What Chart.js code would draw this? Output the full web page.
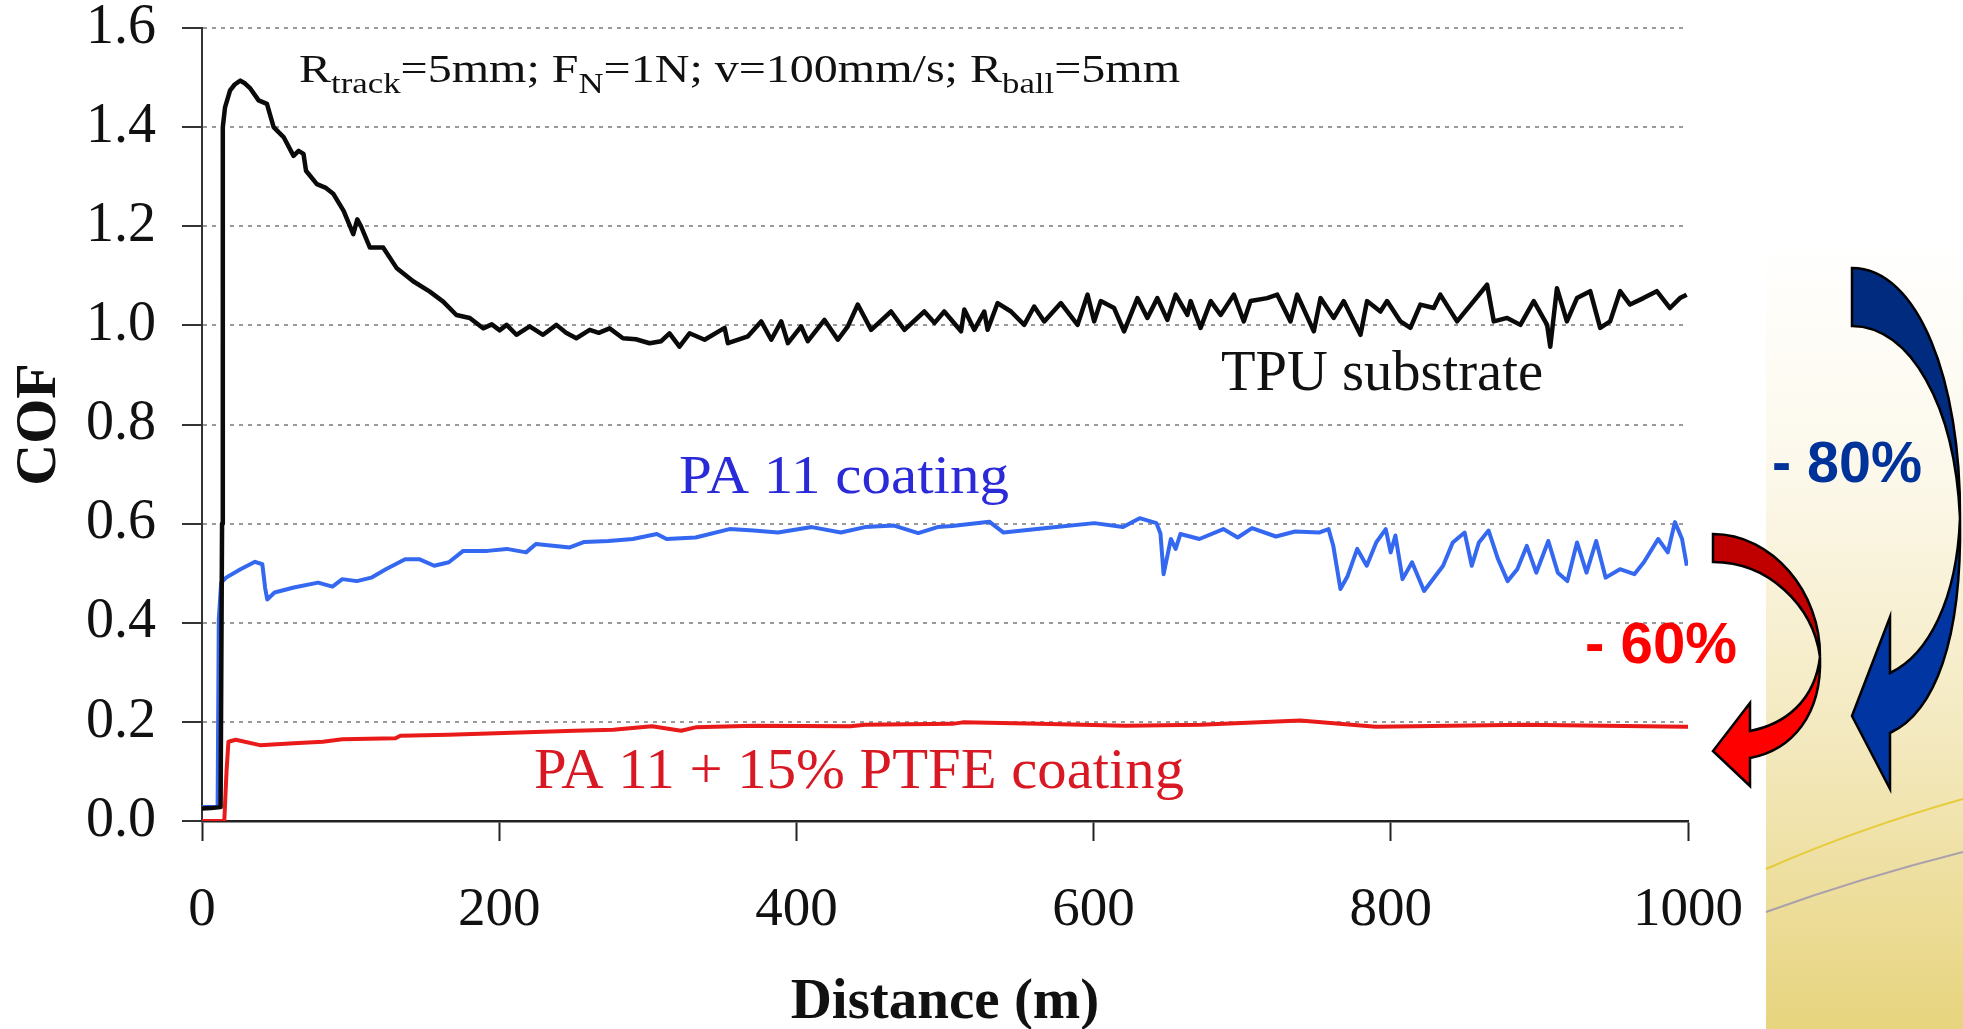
<!DOCTYPE html>
<html>
<head>
<meta charset="utf-8">
<script src="https://cdn.jsdelivr.net/npm/chart.js@4.4.1/dist/chart.umd.min.js"></script>
<style>
html,body{margin:0;padding:0;background:#fff;}
#wrap{position:relative;width:1963px;height:1029px;}
</style>
</head>
<body>
<div id="wrap"><canvas id="c" width="1963" height="1029"></canvas></div>
<script>
// ---------- data ----------
const xTickValues = [0, 200, 400, 600, 800, 1000];
const xTickLabels = ['0', '200', '400', '600', '800', '1000'];
const yTickValues = [0, 0.2, 0.4, 0.6, 0.8, 1.0, 1.2, 1.4, 1.6];
const yTickLabels = ['0.0', '0.2', '0.4', '0.6', '0.8', '1.0', '1.2', '1.4', '1.6'];

const tpuX = [0,6,12.5,13.5,14,15.5,18.9,22,25.8,29,32.5,38.1,43.7,48.2,54.9,61.6,65,68.3,70,77.3,83,88.5,95.3,101.8,104.5,107,113,121.9,130.9,142.1,153.3,162.3,171.2,180.2,189.2,195,200.4,205,211.6,220.5,229.5,238.5,245,251.9,260.9,267,274.3,283.3,292,301.2,309,314.6,321.3,328.1,338.2,351.7,353.9,367.4,376.3,383.1,389.8,394.3,403.2,407.7,418.9,427.9,434.6,441.3,450.3,463.7,472.7,486.1,493,499.5,510.8,513,519.7,526.4,528.7,535.4,544.4,553.3,560,566.8,578,589.2,595.9,600.4,604.8,613.8,620.5,629.5,636.2,642.9,649.6,655.2,663.1,665.3,672,678.8,685.5,694.4,701.1,705.6,716.8,723.6,732.5,737,748.2,752.7,761.6,768.3,779.6,784,793,797.5,806.5,813.2,819.9,828.9,833.3,844.6,855.8,864.8,869.3,878.3,887.2,896.2,905.2,907.3,911.8,918.5,925.3,934.2,940.9,947.6,954.3,961,970,979,987.9,994.6,999.1];
const tpuY = [0.025,0.026,0.028,0.60,1.40,1.44,1.474,1.486,1.494,1.488,1.478,1.454,1.447,1.400,1.380,1.342,1.352,1.346,1.312,1.285,1.278,1.265,1.231,1.184,1.214,1.200,1.157,1.157,1.116,1.089,1.068,1.048,1.021,1.015,0.994,1.002,0.990,1.001,0.981,0.998,0.981,1.001,0.985,0.974,0.991,0.985,0.994,0.974,0.972,0.964,0.968,0.984,0.957,0.984,0.971,0.995,0.964,0.978,1.008,0.971,1.008,0.964,0.998,0.968,1.011,0.971,0.998,1.042,0.991,1.028,0.991,1.028,1.005,1.028,0.988,1.032,0.991,1.028,0.991,1.045,1.028,1.001,1.038,1.008,1.045,1.001,1.062,1.008,1.049,1.035,0.988,1.055,1.015,1.055,1.011,1.062,1.021,1.049,0.995,1.049,1.021,1.062,1.008,1.049,1.055,1.062,1.008,1.062,0.988,1.055,1.015,1.049,0.981,1.049,1.028,1.049,1.008,0.995,1.042,1.035,1.062,1.008,1.049,1.082,1.008,1.015,1.001,1.049,1.001,0.957,1.075,1.008,1.055,1.069,0.995,1.008,1.069,1.042,1.055,1.069,1.035,1.055,1.062];

const pa11X = [0,10.5,11.3,12.9,16.2,25.9,35.7,40.6,42.5,43.9,48.8,61.8,78.1,87.8,94.4,104.2,113.9,123.7,136.7,146.5,156.3,166.1,175.8,192.1,205.1,218.1,224.7,247.5,257.3,273.5,289.9,306.1,312.6,332.2,355,371.2,387.6,410.4,429.9,446.2,465.7,482,495,504.8,529.8,539.4,568.3,600.5,619.8,631,642.3,645,647.1,652,655.2,658.4,671.2,687.3,697,706.6,722.7,735.6,751.6,758.1,761.3,766.1,770.9,777.4,783.8,790.2,796.6,799.9,803.1,807.9,814.3,822.4,835.2,841.7,849.7,854.5,859.3,865.8,872.2,878.6,885.1,891.5,897.9,906,912.4,918.8,925.3,931.7,938.2,944.6,954.2,963.9,970.3,979.9,986.4,991.2,996,999.2];
const pa11Y = [0.028,0.028,0.407,0.481,0.491,0.508,0.523,0.518,0.470,0.447,0.461,0.471,0.481,0.473,0.488,0.484,0.491,0.508,0.528,0.528,0.515,0.522,0.545,0.545,0.549,0.542,0.559,0.552,0.563,0.565,0.569,0.579,0.569,0.572,0.589,0.586,0.582,0.593,0.582,0.593,0.596,0.581,0.593,0.595,0.604,0.582,0.591,0.601,0.593,0.611,0.601,0.580,0.498,0.569,0.549,0.579,0.569,0.589,0.572,0.591,0.574,0.584,0.582,0.589,0.555,0.468,0.494,0.549,0.515,0.562,0.589,0.542,0.576,0.488,0.522,0.464,0.515,0.562,0.582,0.515,0.562,0.586,0.528,0.484,0.508,0.555,0.501,0.565,0.501,0.484,0.562,0.501,0.565,0.491,0.508,0.498,0.522,0.569,0.542,0.603,0.569,0.515];

const ptfeX = [0,15,16.5,17.8,22.7,39,61.8,81.3,94.4,130.2,133.5,166,208.3,250.7,276.8,302.8,322.4,332.2,371.2,436.4,446.2,505,512,563,621.6,672,739,790,890,998,1000];
const ptfeY = [0,0,0.10,0.160,0.164,0.153,0.157,0.160,0.165,0.167,0.172,0.174,0.178,0.182,0.184,0.191,0.182,0.189,0.192,0.191,0.194,0.196,0.199,0.196,0.192,0.194,0.203,0.190,0.194,0.190,0.190];

const seriesNames = ['TPU substrate', 'PA 11 coating', 'PA 11 + 15% PTFE coating'];

function pts(xs, ys) { return xs.map((x, i) => ({x: x, y: ys[i]})); }

// ---------- decorations ----------
const SERIF = 'Liberation Serif';
const SANS = 'Liberation Sans';

function drawFitted(ctx, segs, x, baseline, width, color) {
  ctx.save();
  let total = 0;
  segs.forEach(s => { ctx.font = s.font; total += ctx.measureText(s.t).width; });
  const k = width / total;
  ctx.translate(x, baseline);
  ctx.scale(k, 1);
  ctx.fillStyle = color;
  ctx.textBaseline = 'alphabetic';
  ctx.textAlign = 'left';
  let cx = 0;
  segs.forEach(s => {
    ctx.font = s.font;
    ctx.fillText(s.t, cx, s.dy || 0);
    cx += ctx.measureText(s.t).width;
  });
  ctx.restore();
}

function drawArrow(ctx, o) {
  ctx.save();
  ctx.lineWidth = 2.5;
  ctx.strokeStyle = '#000';
  ctx.lineJoin = 'miter';
  ctx.beginPath();
  ctx.moveTo(o.tailX, o.tailTop);
  ctx.bezierCurveTo(o.u1[0], o.u1[1], o.u2[0], o.u2[1], o.cross[0], o.cross[1]);
  ctx.bezierCurveTo(o.u3[0], o.u3[1], o.u4[0], o.u4[1], o.tailX, o.tailBot);
  ctx.closePath();
  ctx.fillStyle = o.dark;
  ctx.fill();
  ctx.stroke();
  ctx.beginPath();
  ctx.moveTo(o.cross[0], o.cross[1]);
  ctx.bezierCurveTo(o.l1[0], o.l1[1], o.l2[0], o.l2[1], o.baseX, o.shaftBot);
  ctx.lineTo(o.baseX, o.barbBot);
  ctx.lineTo(o.tip[0], o.tip[1]);
  ctx.lineTo(o.baseX, o.barbTop);
  ctx.lineTo(o.baseX, o.shaftTop);
  ctx.bezierCurveTo(o.l3[0], o.l3[1], o.l4[0], o.l4[1], o.cross[0], o.cross[1]);
  ctx.closePath();
  ctx.fillStyle = o.light;
  ctx.fill();
  ctx.stroke();
  ctx.restore();
}

const bgPlugin = {
  id: 'bg',
  beforeDraw(chart) {
    const ctx = chart.ctx;
    ctx.save();
    ctx.fillStyle = '#ffffff';
    ctx.fillRect(0, 0, chart.width, chart.height);
    const g = ctx.createLinearGradient(0, 240, 0, 1029);
    g.addColorStop(0, '#ffffff');
    g.addColorStop(0.3, '#fcf8ea');
    g.addColorStop(0.65, '#f3e8bc');
    g.addColorStop(1, '#e7d47e');
    ctx.fillStyle = g;
    ctx.fillRect(1766, 0, chart.width - 1766, chart.height);
    ctx.lineWidth = 2;
    ctx.strokeStyle = '#e6cc3c';
    ctx.beginPath();
    ctx.moveTo(1766, 869);
    ctx.quadraticCurveTo(1860, 828, 1963, 799);
    ctx.stroke();
    ctx.strokeStyle = '#a9a0ac';
    ctx.beginPath();
    ctx.moveTo(1766, 912);
    ctx.quadraticCurveTo(1860, 878, 1963, 852);
    ctx.stroke();
    ctx.restore();
  }
};

const notePlugin = {
  id: 'notes',
  afterDraw(chart) {
    const ctx = chart.ctx;
    drawFitted(ctx, [
      {t: 'R', font: '40px ' + SERIF},
      {t: 'track', font: '29px ' + SERIF, dy: 11},
      {t: '=5mm; F', font: '40px ' + SERIF},
      {t: 'N', font: '29px ' + SERIF, dy: 11},
      {t: '=1N; v=100mm/s; R', font: '40px ' + SERIF},
      {t: 'ball', font: '29px ' + SERIF, dy: 11},
      {t: '=5mm', font: '40px ' + SERIF}
    ], 299, 82, 881, '#111');
    drawFitted(ctx, [{t: seriesNames[0], font: '56px ' + SERIF}], 1221, 390, 322, '#111');
    drawFitted(ctx, [{t: seriesNames[1], font: '54px ' + SERIF}], 679, 493, 330, '#2a2ad8');
    drawFitted(ctx, [{t: seriesNames[2], font: '57px ' + SERIF}], 534, 788, 650, '#d81822');

    drawArrow(ctx, {
      tailX: 1852, tailTop: 268, tailBot: 326,
      u1: [1918, 268], u2: [1961, 380], cross: [1960, 518],
      u3: [1955, 405], u4: [1910, 326],
      l1: [1962, 640], l2: [1935, 712], baseX: 1890, shaftBot: 733,
      barbBot: 789, tip: [1852, 716], barbTop: 617, shaftTop: 673,
      l3: [1928, 655], l4: [1957, 600],
      dark: '#002b7f', light: '#0035a2'
    });
    drawArrow(ctx, {
      tailX: 1713, tailTop: 534, tailBot: 562,
      u1: [1772, 534], u2: [1821, 592], cross: [1820, 657],
      u3: [1813, 605], u4: [1768, 562],
      l1: [1822, 715], l2: [1792, 750], baseX: 1750, shaftBot: 758,
      barbBot: 786, tip: [1713, 751], barbTop: 703, shaftTop: 731,
      l3: [1786, 724], l4: [1815, 700],
      dark: '#c00000', light: '#ff0000'
    });

    drawFitted(ctx, [{t: '- 80%', font: 'bold 58px ' + SANS}], 1772, 482, 150, '#003399');
    drawFitted(ctx, [{t: '- 60%', font: 'bold 58px ' + SANS}], 1585, 663, 152, '#ff0000');
  }
};

// ---------- chart ----------
Chart.defaults.font.family = SERIF;
Chart.defaults.color = '#111';

new Chart(document.getElementById('c'), {
  type: 'scatter',
  data: {
    datasets: [
      {label: seriesNames[0], data: pts(tpuX, tpuY), showLine: true, borderColor: '#0a0a0a', borderWidth: 4.5, pointRadius: 0, tension: 0, borderJoinStyle: 'round'},
      {label: seriesNames[1], data: pts(pa11X, pa11Y), showLine: true, borderColor: '#3468f0', borderWidth: 4, pointRadius: 0, tension: 0, borderJoinStyle: 'round'},
      {label: seriesNames[2], data: pts(ptfeX, ptfeY), showLine: true, borderColor: '#e81a1a', borderWidth: 4, pointRadius: 0, tension: 0, borderJoinStyle: 'round'}
    ]
  },
  options: {
    responsive: false,
    animation: false,
    devicePixelRatio: 1,
    layout: {padding: {top: 28, right: 275, bottom: 0, left: 0}},
    plugins: {legend: {display: false}, tooltip: {enabled: false}},
    scales: {
      x: {
        type: 'linear', min: 0, max: 1000,
        afterBuildTicks(s) { s.ticks = xTickValues.map(v => ({value: v})); },
        afterFit(s) { s.height = 208; s.paddingLeft = 0; s.paddingRight = 0; },
        ticks: {
          callback: (v, i) => xTickLabels[i],
          font: {family: SERIF, size: 55}, color: '#111', padding: 37, maxRotation: 0, autoSkip: false
        },
        grid: {drawOnChartArea: false, drawTicks: true, tickLength: 20, tickColor: '#222', tickWidth: 2},
        border: {display: true, color: '#222', width: 2.5},
        title: {display: true, text: 'Distance (m)', font: {family: SERIF, size: 57, weight: 'bold', lineHeight: 1}, color: '#111', padding: {top: 0, bottom: -3}}
      },
      y: {
        type: 'linear', min: 0, max: 1.6,
        afterBuildTicks(s) { s.ticks = yTickValues.map(v => ({value: v})); },
        afterFit(s) { s.width = 202; s.paddingTop = 0; s.paddingBottom = 0; },
        ticks: {
          callback: (v, i) => yTickLabels[i],
          font: {family: SERIF, size: 56}, color: '#111', padding: 26, autoSkip: false
        },
        grid: {color: '#9a9a9a', lineWidth: 2, drawTicks: true, tickLength: 20, tickColor: '#333', tickWidth: 2, tickBorderDash: []},
        border: {display: true, color: '#333', width: 2, dash: [4, 5]},
        title: {display: true, text: 'COF', font: {family: SERIF, size: 58, weight: 'bold', lineHeight: 1}, color: '#111', padding: {top: 11, bottom: 0}}
      }
    }
  },
  plugins: [bgPlugin, notePlugin]
});
</script>
</body>
</html>
